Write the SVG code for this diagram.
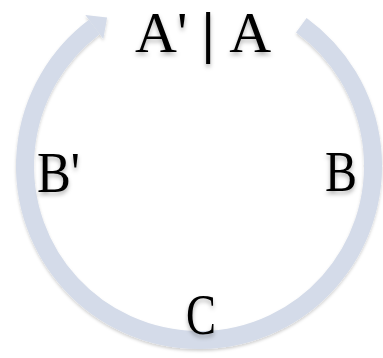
<svg xmlns="http://www.w3.org/2000/svg" width="383" height="358" viewBox="0 0 383 358">
  <defs>
    <filter id="shadow" x="-20%" y="-20%" width="140%" height="160%">
      <feDropShadow dx="0" dy="3" stdDeviation="2" flood-color="#000" flood-opacity="0.3"/>
    </filter>
    <filter id="ringShadow" x="-10%" y="-10%" width="120%" height="120%">
      <feDropShadow dx="0" dy="2" stdDeviation="1.5" flood-color="#000" flood-opacity="0.18"/>
    </filter>
  </defs>
  <style>
    .lbl { font-family: "Liberation Serif", "Times New Roman", serif; font-size: 58px; fill: #000; }
    .ring { fill: none; stroke: #d4dbe9; stroke-width: 18; }
    .head { fill: #d4dbe9; stroke: none; }
  </style>
  <g id="connectors" filter="url(#ringShadow)">
    <path class="ring" d="M 301.3 25.2 A 174 174 0 1 1 94.3 27.0"/>
    <polygon class="head" points="85.3,15.0 107.1,17.4 103.3,39.0"/>
  </g>
  <g id="nodeA" filter="url(#shadow)">
    <text class="lbl" x="135" y="52" font-size="56">A'<tspan font-weight="bold"> | </tspan>A</text>
  </g>
  <g id="nodeBprime" filter="url(#shadow)">
    <text class="lbl" x="37" y="192" textLength="43" lengthAdjust="spacingAndGlyphs">B'</text>
  </g>
  <g id="nodeB" filter="url(#shadow)">
    <text class="lbl" x="325" y="191" textLength="32" lengthAdjust="spacingAndGlyphs">B</text>
  </g>
  <g id="nodeC" filter="url(#shadow)">
    <text class="lbl" x="186" y="334" textLength="30" lengthAdjust="spacingAndGlyphs">C</text>
  </g>
</svg>
